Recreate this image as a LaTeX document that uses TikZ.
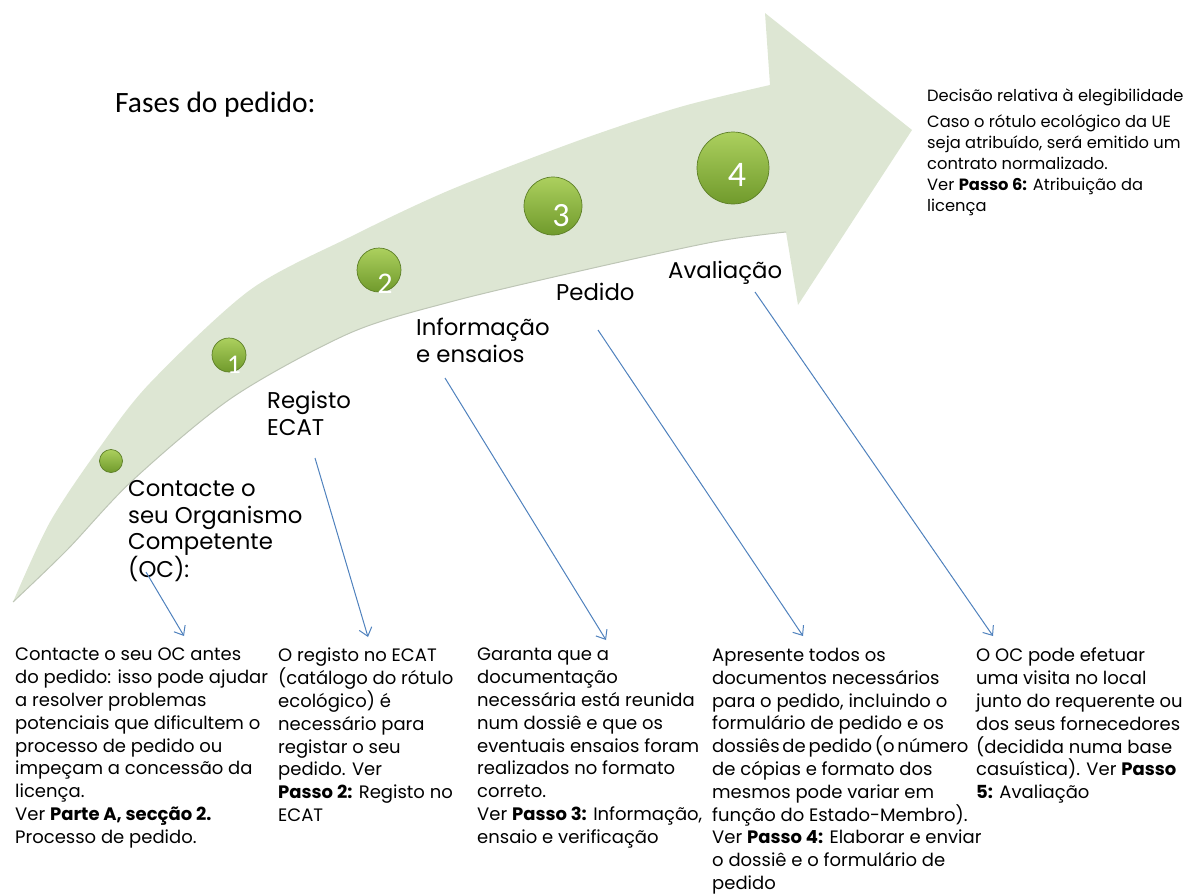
\documentclass[tikz,border=0pt]{standalone}
\usepackage{fontspec}
\setmainfont{Poppins}
\newfontfamily\calib{Carlito}
\usetikzlibrary{arrows.meta}
\definecolor{band}{RGB}{221,230,211}
\definecolor{bandedge}{RGB}{190,198,182}
\definecolor{ballhi}{RGB}{172,208,94}
\definecolor{balllo}{RGB}{112,154,44}
\definecolor{ballrim}{RGB}{92,126,38}
\definecolor{conn}{RGB}{79,129,189}
\begin{document}
\begin{tikzpicture}[x=1pt,y=-1pt,
  lbl/.style={anchor=north west, inner sep=0, align=left,
    font=\fontsize{22.8}{26.7}\selectfont, execute at begin node={\rule{0pt}{20pt}}},
  desc/.style={anchor=north west, inner sep=0, align=left,
    font=\fontsize{18}{22.8}\selectfont, execute at begin node={\rule{0pt}{17pt}}},
  dec/.style={anchor=north west, inner sep=0, align=left,
    font=\fontsize{16.3}{21}\selectfont, execute at begin node={\rule{0pt}{15pt}}},
  ball/.style={circle, inner sep=0, top color=ballhi, bottom color=balllo,
    draw=ballrim, line width=0.7pt},
  num/.style={inner sep=0, text=white},
  conn/.style={draw=conn, line width=1pt, -{Straight Barb[length=8pt,width=13pt,line width=1pt]}}
]
\path[use as bounding box] (0,0) rectangle (1200,894);

% curved arrow band
\fill[band] plot[smooth, tension=0.5] coordinates {(13,602) (50,522) (100,447) (150,383) (250,290) (350,237) (450,190) (580,140) (680,107) (770,85)}
  -- (765,13) -- (912,130) -- (798,305) -- (786,232)
  -- plot[smooth, tension=0.5] coordinates {(786,232) (713,242) (580,271) (450,302) (350,333) (233,397) (133,480) (67,550) (13,602)} -- cycle;
\draw[bandedge, line width=1pt] plot[smooth, tension=0.5] coordinates {(786,232) (713,242) (580,271) (450,302) (350,333) (233,397) (133,480) (67,550) (13,602)};

% title
\node[anchor=base west, inner sep=0, font=\calib\fontsize{29.5}{33}\selectfont] (title) at (115,112) {Fases do pedido:};

% balls
\node[ball, minimum size=23pt] (b0) at (111,461) {};
\node[ball, minimum size=34pt] (b1) at (229,355) {};
\node[ball, minimum size=44pt] (b2) at (379,270) {};
\node[ball, minimum size=58pt] (b3) at (553,206) {};
\node[ball, minimum size=72pt] (b4) at (733,168) {};
\node[num, font=\calib\fontsize{27}{30}\selectfont] (n1) at (234,365) {1};
\node[num, font=\calib\fontsize{30}{34}\selectfont] (n2) at (385,284) {2};
\node[num, font=\calib\fontsize{34}{38}\selectfont] (n3) at (561,216) {3};
\node[num, font=\calib\fontsize{36}{40}\selectfont] (n4) at (737,175) {4};

% phase labels
\node[lbl] (l1) at (128,480) {Contacte o\\seu Organismo\\Competente\\(OC):};
\node[lbl] (l2) at (267,391) {Registo\\ECAT};
\node[lbl] (l3) at (416,318) {Informação\\e ensaios};
\node[lbl] (l4) at (556,280) {Pedido};
\node[lbl] (l5) at (668,258) {Avaliação};

% decision text
\node[dec] (d6) at (927,89) {Decisão relativa à elegibilidade\\[5pt]
Caso o rótulo ecológico da UE\\
seja atribuído, será emitido um\\
contrato normalizado.\\
Ver \textbf{Passo 6:} Atribuição da\\
licença};

% description blocks
\node[desc] (t1) at (15,648) {Contacte o seu OC antes\\
do pedido: isso pode ajudar\\
a resolver problemas\\
potenciais que dificultem o\\
processo de pedido ou\\
impeçam a concessão da\\
licença.\\
Ver \textbf{Parte A, secção 2.}\\
Processo de pedido.};
\node[desc] (t2) at (278,648) {O registo no ECAT\\
(catálogo do rótulo\\
ecológico) é\\
necessário para\\
registar o seu\\
pedido. Ver\\
\textbf{Passo 2:} Registo no\\
ECAT};
\node[desc] (t3) at (477,648) {Garanta que a\\
documentação\\
necessária está reunida\\
num dossiê e que os\\
eventuais ensaios foram\\
realizados no formato\\
correto.\\
Ver \textbf{Passo 3:} Informação,\\
ensaio e verificação};
\node[desc] (t4) at (712,648) {Apresente todos os\\
documentos necessários\\
para o pedido, incluindo o\\
formulário de pedido e os\\
\spaceskip=2.8pt dossiês de pedido (o número\\
de cópias e formato dos\\
mesmos pode variar em\\
função do Estado-Membro).\\
Ver \textbf{Passo 4:} Elaborar e enviar\\
o dossiê e o formulário de\\
pedido};
\node[desc] (t5) at (976,648) {O OC pode efetuar\\
uma visita no local\\
junto do requerente ou\\
dos seus fornecedores\\
(decidida numa base\\
casuística). Ver \textbf{Passo}\\
\textbf{5:} Avaliação};

% connectors
\coordinate (s1) at (146,572); \coordinate (e1) at (184,636);
\coordinate (s2) at (315,458); \coordinate (e2) at (368,637);
\coordinate (s3) at (445,378); \coordinate (e3) at (606,640);
\coordinate (s4) at (598,330); \coordinate (e4) at (803,636);
\coordinate (s5) at (755,292); \coordinate (e5) at (993,636);
\draw[conn] (s1) -- (e1);
\draw[conn] (s2) -- (e2);
\draw[conn] (s3) -- (e3);
\draw[conn] (s4) -- (e4);
\draw[conn] (s5) -- (e5);
\end{tikzpicture}
\end{document}
